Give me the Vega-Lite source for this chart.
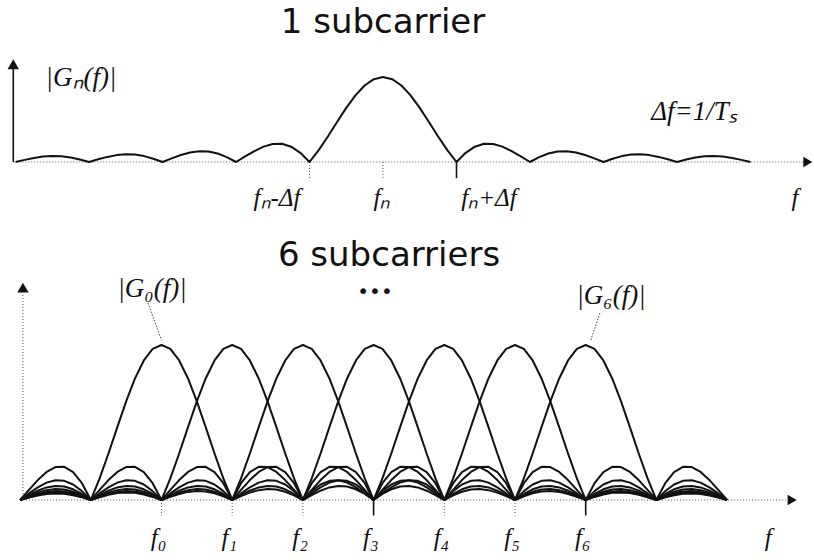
{
  "$schema": "https://vega.github.io/schema/vega-lite/v6.json",
  "padding": 0,
  "autosize": {"type": "pad"},
  "background": "white",
  "spacing": 0,
  "config": {"view": {"stroke": null}},
  "datasets": {
    "single": [
      {"u":-5,"v":0},{"u":-4.875,"v":0.025},{"u":-4.75,"v":0.0474},{"u":-4.625,"v":0.0636},{"u":-4.5,"v":0.0707},{"u":-4.375,"v":0.0672},{"u":-4.25,"v":0.053},{"u":-4.125,"v":0.0295},
      {"u":-4,"v":0},{"u":-3.875,"v":0.0314},{"u":-3.75,"v":0.06},{"u":-3.625,"v":0.0811},{"u":-3.5,"v":0.0909},{"u":-3.375,"v":0.0871},{"u":-3.25,"v":0.0693},{"u":-3.125,"v":0.039},
      {"u":-3,"v":0},{"u":-2.875,"v":0.0424},{"u":-2.75,"v":0.0818},{"u":-2.625,"v":0.112},{"u":-2.5,"v":0.1273},{"u":-2.375,"v":0.1238},{"u":-2.25,"v":0.1},{"u":-2.125,"v":0.0573},
      {"u":-2,"v":0},{"u":-1.875,"v":0.065},{"u":-1.75,"v":0.1286},{"u":-1.625,"v":0.181},{"u":-1.5,"v":0.2122},{"u":-1.375,"v":0.2139},{"u":-1.25,"v":0.1801},{"u":-1.125,"v":0.1083},
      {"u":-1,"v":0},{"u":-0.875,"v":0.1392},{"u":-0.75,"v":0.3001},{"u":-0.625,"v":0.4705},{"u":-0.5,"v":0.6366},{"u":-0.375,"v":0.7842},{"u":-0.25,"v":0.9003},{"u":-0.125,"v":0.9745},
      {"u":0,"v":1},{"u":0.125,"v":0.9745},{"u":0.25,"v":0.9003},{"u":0.375,"v":0.7842},{"u":0.5,"v":0.6366},{"u":0.625,"v":0.4705},{"u":0.75,"v":0.3001},{"u":0.875,"v":0.1392},
      {"u":1,"v":0},{"u":1.125,"v":0.1083},{"u":1.25,"v":0.1801},{"u":1.375,"v":0.2139},{"u":1.5,"v":0.2122},{"u":1.625,"v":0.181},{"u":1.75,"v":0.1286},{"u":1.875,"v":0.065},
      {"u":2,"v":0},{"u":2.125,"v":0.0573},{"u":2.25,"v":0.1},{"u":2.375,"v":0.1238},{"u":2.5,"v":0.1273},{"u":2.625,"v":0.112},{"u":2.75,"v":0.0818},{"u":2.875,"v":0.0424},
      {"u":3,"v":0},{"u":3.125,"v":0.039},{"u":3.25,"v":0.0693},{"u":3.375,"v":0.0871},{"u":3.5,"v":0.0909},{"u":3.625,"v":0.0811},{"u":3.75,"v":0.06},{"u":3.875,"v":0.0314},
      {"u":4,"v":0},{"u":4.125,"v":0.0295},{"u":4.25,"v":0.053},{"u":4.375,"v":0.0672},{"u":4.5,"v":0.0707},{"u":4.625,"v":0.0636},{"u":4.75,"v":0.0474},{"u":4.875,"v":0.025},
      {"u":5,"v":0}
    ],
    "spectra": [
      {"k":0,"u":-2,"v":0},{"k":0,"u":-1.875,"v":0.065},{"k":0,"u":-1.75,"v":0.1286},{"k":0,"u":-1.625,"v":0.181},{"k":0,"u":-1.5,"v":0.2122},{"k":0,"u":-1.375,"v":0.2139},{"k":0,"u":-1.25,"v":0.1801},{"k":0,"u":-1.125,"v":0.1083},
      {"k":0,"u":-1,"v":0},{"k":0,"u":-0.875,"v":0.1392},{"k":0,"u":-0.75,"v":0.3001},{"k":0,"u":-0.625,"v":0.4705},{"k":0,"u":-0.5,"v":0.6366},{"k":0,"u":-0.375,"v":0.7842},{"k":0,"u":-0.25,"v":0.9003},{"k":0,"u":-0.125,"v":0.9745},
      {"k":0,"u":0,"v":1},{"k":0,"u":0.125,"v":0.9745},{"k":0,"u":0.25,"v":0.9003},{"k":0,"u":0.375,"v":0.7842},{"k":0,"u":0.5,"v":0.6366},{"k":0,"u":0.625,"v":0.4705},{"k":0,"u":0.75,"v":0.3001},{"k":0,"u":0.875,"v":0.1392},
      {"k":0,"u":1,"v":0},{"k":0,"u":1.125,"v":0.1083},{"k":0,"u":1.25,"v":0.1801},{"k":0,"u":1.375,"v":0.2139},{"k":0,"u":1.5,"v":0.2122},{"k":0,"u":1.625,"v":0.181},{"k":0,"u":1.75,"v":0.1286},{"k":0,"u":1.875,"v":0.065},
      {"k":0,"u":2,"v":0},{"k":0,"u":2.125,"v":0.0573},{"k":0,"u":2.25,"v":0.1},{"k":0,"u":2.375,"v":0.1238},{"k":0,"u":2.5,"v":0.1273},{"k":0,"u":2.625,"v":0.112},{"k":0,"u":2.75,"v":0.0818},{"k":0,"u":2.875,"v":0.0424},
      {"k":0,"u":3,"v":0},{"k":0,"u":3.125,"v":0.039},{"k":0,"u":3.25,"v":0.0693},{"k":0,"u":3.375,"v":0.0871},{"k":0,"u":3.5,"v":0.0909},{"k":0,"u":3.625,"v":0.0811},{"k":0,"u":3.75,"v":0.06},{"k":0,"u":3.875,"v":0.0314},
      {"k":0,"u":4,"v":0},{"k":0,"u":4.125,"v":0.0295},{"k":0,"u":4.25,"v":0.053},{"k":0,"u":4.375,"v":0.0672},{"k":0,"u":4.5,"v":0.0707},{"k":0,"u":4.625,"v":0.0636},{"k":0,"u":4.75,"v":0.0474},{"k":0,"u":4.875,"v":0.025},
      {"k":0,"u":5,"v":0},{"k":0,"u":5.125,"v":0.0238},{"k":0,"u":5.25,"v":0.0429},{"k":0,"u":5.375,"v":0.0547},{"k":0,"u":5.5,"v":0.0579},{"k":0,"u":5.625,"v":0.0523},{"k":0,"u":5.75,"v":0.0391},{"k":0,"u":5.875,"v":0.0207},
      {"k":0,"u":6,"v":0},{"k":0,"u":6.125,"v":0.0199},{"k":0,"u":6.25,"v":0.036},{"k":0,"u":6.375,"v":0.0461},{"k":0,"u":6.5,"v":0.049},{"k":0,"u":6.625,"v":0.0444},{"k":0,"u":6.75,"v":0.0333},{"k":0,"u":6.875,"v":0.0177},
      {"k":0,"u":7,"v":0},{"k":0,"u":7.125,"v":0.0171},{"k":0,"u":7.25,"v":0.031},{"k":0,"u":7.375,"v":0.0399},{"k":0,"u":7.5,"v":0.0424},{"k":0,"u":7.625,"v":0.0386},{"k":0,"u":7.75,"v":0.029},{"k":0,"u":7.875,"v":0.0155},
      {"k":0,"u":8,"v":0},

      {"k":1,"u":-2,"v":0},{"k":1,"u":-1.875,"v":0.0424},{"k":1,"u":-1.75,"v":0.0818},{"k":1,"u":-1.625,"v":0.112},{"k":1,"u":-1.5,"v":0.1273},{"k":1,"u":-1.375,"v":0.1238},{"k":1,"u":-1.25,"v":0.1},{"k":1,"u":-1.125,"v":0.0573},
      {"k":1,"u":-1,"v":0},{"k":1,"u":-0.875,"v":0.065},{"k":1,"u":-0.75,"v":0.1286},{"k":1,"u":-0.625,"v":0.181},{"k":1,"u":-0.5,"v":0.2122},{"k":1,"u":-0.375,"v":0.2139},{"k":1,"u":-0.25,"v":0.1801},{"k":1,"u":-0.125,"v":0.1083},
      {"k":1,"u":0,"v":0},{"k":1,"u":0.125,"v":0.1392},{"k":1,"u":0.25,"v":0.3001},{"k":1,"u":0.375,"v":0.4705},{"k":1,"u":0.5,"v":0.6366},{"k":1,"u":0.625,"v":0.7842},{"k":1,"u":0.75,"v":0.9003},{"k":1,"u":0.875,"v":0.9745},
      {"k":1,"u":1,"v":1},{"k":1,"u":1.125,"v":0.9745},{"k":1,"u":1.25,"v":0.9003},{"k":1,"u":1.375,"v":0.7842},{"k":1,"u":1.5,"v":0.6366},{"k":1,"u":1.625,"v":0.4705},{"k":1,"u":1.75,"v":0.3001},{"k":1,"u":1.875,"v":0.1392},
      {"k":1,"u":2,"v":0},{"k":1,"u":2.125,"v":0.1083},{"k":1,"u":2.25,"v":0.1801},{"k":1,"u":2.375,"v":0.2139},{"k":1,"u":2.5,"v":0.2122},{"k":1,"u":2.625,"v":0.181},{"k":1,"u":2.75,"v":0.1286},{"k":1,"u":2.875,"v":0.065},
      {"k":1,"u":3,"v":0},{"k":1,"u":3.125,"v":0.0573},{"k":1,"u":3.25,"v":0.1},{"k":1,"u":3.375,"v":0.1238},{"k":1,"u":3.5,"v":0.1273},{"k":1,"u":3.625,"v":0.112},{"k":1,"u":3.75,"v":0.0818},{"k":1,"u":3.875,"v":0.0424},
      {"k":1,"u":4,"v":0},{"k":1,"u":4.125,"v":0.039},{"k":1,"u":4.25,"v":0.0693},{"k":1,"u":4.375,"v":0.0871},{"k":1,"u":4.5,"v":0.0909},{"k":1,"u":4.625,"v":0.0811},{"k":1,"u":4.75,"v":0.06},{"k":1,"u":4.875,"v":0.0314},
      {"k":1,"u":5,"v":0},{"k":1,"u":5.125,"v":0.0295},{"k":1,"u":5.25,"v":0.053},{"k":1,"u":5.375,"v":0.0672},{"k":1,"u":5.5,"v":0.0707},{"k":1,"u":5.625,"v":0.0636},{"k":1,"u":5.75,"v":0.0474},{"k":1,"u":5.875,"v":0.025},
      {"k":1,"u":6,"v":0},{"k":1,"u":6.125,"v":0.0238},{"k":1,"u":6.25,"v":0.0429},{"k":1,"u":6.375,"v":0.0547},{"k":1,"u":6.5,"v":0.0579},{"k":1,"u":6.625,"v":0.0523},{"k":1,"u":6.75,"v":0.0391},{"k":1,"u":6.875,"v":0.0207},
      {"k":1,"u":7,"v":0},{"k":1,"u":7.125,"v":0.0199},{"k":1,"u":7.25,"v":0.036},{"k":1,"u":7.375,"v":0.0461},{"k":1,"u":7.5,"v":0.049},{"k":1,"u":7.625,"v":0.0444},{"k":1,"u":7.75,"v":0.0333},{"k":1,"u":7.875,"v":0.0177},
      {"k":1,"u":8,"v":0},

      {"k":2,"u":-2,"v":0},{"k":2,"u":-1.875,"v":0.0314},{"k":2,"u":-1.75,"v":0.06},{"k":2,"u":-1.625,"v":0.0811},{"k":2,"u":-1.5,"v":0.0909},{"k":2,"u":-1.375,"v":0.0871},{"k":2,"u":-1.25,"v":0.0693},{"k":2,"u":-1.125,"v":0.039},
      {"k":2,"u":-1,"v":0},{"k":2,"u":-0.875,"v":0.0424},{"k":2,"u":-0.75,"v":0.0818},{"k":2,"u":-0.625,"v":0.112},{"k":2,"u":-0.5,"v":0.1273},{"k":2,"u":-0.375,"v":0.1238},{"k":2,"u":-0.25,"v":0.1},{"k":2,"u":-0.125,"v":0.0573},
      {"k":2,"u":0,"v":0},{"k":2,"u":0.125,"v":0.065},{"k":2,"u":0.25,"v":0.1286},{"k":2,"u":0.375,"v":0.181},{"k":2,"u":0.5,"v":0.2122},{"k":2,"u":0.625,"v":0.2139},{"k":2,"u":0.75,"v":0.1801},{"k":2,"u":0.875,"v":0.1083},
      {"k":2,"u":1,"v":0},{"k":2,"u":1.125,"v":0.1392},{"k":2,"u":1.25,"v":0.3001},{"k":2,"u":1.375,"v":0.4705},{"k":2,"u":1.5,"v":0.6366},{"k":2,"u":1.625,"v":0.7842},{"k":2,"u":1.75,"v":0.9003},{"k":2,"u":1.875,"v":0.9745},
      {"k":2,"u":2,"v":1},{"k":2,"u":2.125,"v":0.9745},{"k":2,"u":2.25,"v":0.9003},{"k":2,"u":2.375,"v":0.7842},{"k":2,"u":2.5,"v":0.6366},{"k":2,"u":2.625,"v":0.4705},{"k":2,"u":2.75,"v":0.3001},{"k":2,"u":2.875,"v":0.1392},
      {"k":2,"u":3,"v":0},{"k":2,"u":3.125,"v":0.1083},{"k":2,"u":3.25,"v":0.1801},{"k":2,"u":3.375,"v":0.2139},{"k":2,"u":3.5,"v":0.2122},{"k":2,"u":3.625,"v":0.181},{"k":2,"u":3.75,"v":0.1286},{"k":2,"u":3.875,"v":0.065},
      {"k":2,"u":4,"v":0},{"k":2,"u":4.125,"v":0.0573},{"k":2,"u":4.25,"v":0.1},{"k":2,"u":4.375,"v":0.1238},{"k":2,"u":4.5,"v":0.1273},{"k":2,"u":4.625,"v":0.112},{"k":2,"u":4.75,"v":0.0818},{"k":2,"u":4.875,"v":0.0424},
      {"k":2,"u":5,"v":0},{"k":2,"u":5.125,"v":0.039},{"k":2,"u":5.25,"v":0.0693},{"k":2,"u":5.375,"v":0.0871},{"k":2,"u":5.5,"v":0.0909},{"k":2,"u":5.625,"v":0.0811},{"k":2,"u":5.75,"v":0.06},{"k":2,"u":5.875,"v":0.0314},
      {"k":2,"u":6,"v":0},{"k":2,"u":6.125,"v":0.0295},{"k":2,"u":6.25,"v":0.053},{"k":2,"u":6.375,"v":0.0672},{"k":2,"u":6.5,"v":0.0707},{"k":2,"u":6.625,"v":0.0636},{"k":2,"u":6.75,"v":0.0474},{"k":2,"u":6.875,"v":0.025},
      {"k":2,"u":7,"v":0},{"k":2,"u":7.125,"v":0.0238},{"k":2,"u":7.25,"v":0.0429},{"k":2,"u":7.375,"v":0.0547},{"k":2,"u":7.5,"v":0.0579},{"k":2,"u":7.625,"v":0.0523},{"k":2,"u":7.75,"v":0.0391},{"k":2,"u":7.875,"v":0.0207},
      {"k":2,"u":8,"v":0},

      {"k":3,"u":-2,"v":0},{"k":3,"u":-1.875,"v":0.025},{"k":3,"u":-1.75,"v":0.0474},{"k":3,"u":-1.625,"v":0.0636},{"k":3,"u":-1.5,"v":0.0707},{"k":3,"u":-1.375,"v":0.0672},{"k":3,"u":-1.25,"v":0.053},{"k":3,"u":-1.125,"v":0.0295},
      {"k":3,"u":-1,"v":0},{"k":3,"u":-0.875,"v":0.0314},{"k":3,"u":-0.75,"v":0.06},{"k":3,"u":-0.625,"v":0.0811},{"k":3,"u":-0.5,"v":0.0909},{"k":3,"u":-0.375,"v":0.0871},{"k":3,"u":-0.25,"v":0.0693},{"k":3,"u":-0.125,"v":0.039},
      {"k":3,"u":0,"v":0},{"k":3,"u":0.125,"v":0.0424},{"k":3,"u":0.25,"v":0.0818},{"k":3,"u":0.375,"v":0.112},{"k":3,"u":0.5,"v":0.1273},{"k":3,"u":0.625,"v":0.1238},{"k":3,"u":0.75,"v":0.1},{"k":3,"u":0.875,"v":0.0573},
      {"k":3,"u":1,"v":0},{"k":3,"u":1.125,"v":0.065},{"k":3,"u":1.25,"v":0.1286},{"k":3,"u":1.375,"v":0.181},{"k":3,"u":1.5,"v":0.2122},{"k":3,"u":1.625,"v":0.2139},{"k":3,"u":1.75,"v":0.1801},{"k":3,"u":1.875,"v":0.1083},
      {"k":3,"u":2,"v":0},{"k":3,"u":2.125,"v":0.1392},{"k":3,"u":2.25,"v":0.3001},{"k":3,"u":2.375,"v":0.4705},{"k":3,"u":2.5,"v":0.6366},{"k":3,"u":2.625,"v":0.7842},{"k":3,"u":2.75,"v":0.9003},{"k":3,"u":2.875,"v":0.9745},
      {"k":3,"u":3,"v":1},{"k":3,"u":3.125,"v":0.9745},{"k":3,"u":3.25,"v":0.9003},{"k":3,"u":3.375,"v":0.7842},{"k":3,"u":3.5,"v":0.6366},{"k":3,"u":3.625,"v":0.4705},{"k":3,"u":3.75,"v":0.3001},{"k":3,"u":3.875,"v":0.1392},
      {"k":3,"u":4,"v":0},{"k":3,"u":4.125,"v":0.1083},{"k":3,"u":4.25,"v":0.1801},{"k":3,"u":4.375,"v":0.2139},{"k":3,"u":4.5,"v":0.2122},{"k":3,"u":4.625,"v":0.181},{"k":3,"u":4.75,"v":0.1286},{"k":3,"u":4.875,"v":0.065},
      {"k":3,"u":5,"v":0},{"k":3,"u":5.125,"v":0.0573},{"k":3,"u":5.25,"v":0.1},{"k":3,"u":5.375,"v":0.1238},{"k":3,"u":5.5,"v":0.1273},{"k":3,"u":5.625,"v":0.112},{"k":3,"u":5.75,"v":0.0818},{"k":3,"u":5.875,"v":0.0424},
      {"k":3,"u":6,"v":0},{"k":3,"u":6.125,"v":0.039},{"k":3,"u":6.25,"v":0.0693},{"k":3,"u":6.375,"v":0.0871},{"k":3,"u":6.5,"v":0.0909},{"k":3,"u":6.625,"v":0.0811},{"k":3,"u":6.75,"v":0.06},{"k":3,"u":6.875,"v":0.0314},
      {"k":3,"u":7,"v":0},{"k":3,"u":7.125,"v":0.0295},{"k":3,"u":7.25,"v":0.053},{"k":3,"u":7.375,"v":0.0672},{"k":3,"u":7.5,"v":0.0707},{"k":3,"u":7.625,"v":0.0636},{"k":3,"u":7.75,"v":0.0474},{"k":3,"u":7.875,"v":0.025},
      {"k":3,"u":8,"v":0},

      {"k":4,"u":-2,"v":0},{"k":4,"u":-1.875,"v":0.0207},{"k":4,"u":-1.75,"v":0.0391},{"k":4,"u":-1.625,"v":0.0523},{"k":4,"u":-1.5,"v":0.0579},{"k":4,"u":-1.375,"v":0.0547},{"k":4,"u":-1.25,"v":0.0429},{"k":4,"u":-1.125,"v":0.0238},
      {"k":4,"u":-1,"v":0},{"k":4,"u":-0.875,"v":0.025},{"k":4,"u":-0.75,"v":0.0474},{"k":4,"u":-0.625,"v":0.0636},{"k":4,"u":-0.5,"v":0.0707},{"k":4,"u":-0.375,"v":0.0672},{"k":4,"u":-0.25,"v":0.053},{"k":4,"u":-0.125,"v":0.0295},
      {"k":4,"u":0,"v":0},{"k":4,"u":0.125,"v":0.0314},{"k":4,"u":0.25,"v":0.06},{"k":4,"u":0.375,"v":0.0811},{"k":4,"u":0.5,"v":0.0909},{"k":4,"u":0.625,"v":0.0871},{"k":4,"u":0.75,"v":0.0693},{"k":4,"u":0.875,"v":0.039},
      {"k":4,"u":1,"v":0},{"k":4,"u":1.125,"v":0.0424},{"k":4,"u":1.25,"v":0.0818},{"k":4,"u":1.375,"v":0.112},{"k":4,"u":1.5,"v":0.1273},{"k":4,"u":1.625,"v":0.1238},{"k":4,"u":1.75,"v":0.1},{"k":4,"u":1.875,"v":0.0573},
      {"k":4,"u":2,"v":0},{"k":4,"u":2.125,"v":0.065},{"k":4,"u":2.25,"v":0.1286},{"k":4,"u":2.375,"v":0.181},{"k":4,"u":2.5,"v":0.2122},{"k":4,"u":2.625,"v":0.2139},{"k":4,"u":2.75,"v":0.1801},{"k":4,"u":2.875,"v":0.1083},
      {"k":4,"u":3,"v":0},{"k":4,"u":3.125,"v":0.1392},{"k":4,"u":3.25,"v":0.3001},{"k":4,"u":3.375,"v":0.4705},{"k":4,"u":3.5,"v":0.6366},{"k":4,"u":3.625,"v":0.7842},{"k":4,"u":3.75,"v":0.9003},{"k":4,"u":3.875,"v":0.9745},
      {"k":4,"u":4,"v":1},{"k":4,"u":4.125,"v":0.9745},{"k":4,"u":4.25,"v":0.9003},{"k":4,"u":4.375,"v":0.7842},{"k":4,"u":4.5,"v":0.6366},{"k":4,"u":4.625,"v":0.4705},{"k":4,"u":4.75,"v":0.3001},{"k":4,"u":4.875,"v":0.1392},
      {"k":4,"u":5,"v":0},{"k":4,"u":5.125,"v":0.1083},{"k":4,"u":5.25,"v":0.1801},{"k":4,"u":5.375,"v":0.2139},{"k":4,"u":5.5,"v":0.2122},{"k":4,"u":5.625,"v":0.181},{"k":4,"u":5.75,"v":0.1286},{"k":4,"u":5.875,"v":0.065},
      {"k":4,"u":6,"v":0},{"k":4,"u":6.125,"v":0.0573},{"k":4,"u":6.25,"v":0.1},{"k":4,"u":6.375,"v":0.1238},{"k":4,"u":6.5,"v":0.1273},{"k":4,"u":6.625,"v":0.112},{"k":4,"u":6.75,"v":0.0818},{"k":4,"u":6.875,"v":0.0424},
      {"k":4,"u":7,"v":0},{"k":4,"u":7.125,"v":0.039},{"k":4,"u":7.25,"v":0.0693},{"k":4,"u":7.375,"v":0.0871},{"k":4,"u":7.5,"v":0.0909},{"k":4,"u":7.625,"v":0.0811},{"k":4,"u":7.75,"v":0.06},{"k":4,"u":7.875,"v":0.0314},
      {"k":4,"u":8,"v":0},

      {"k":5,"u":-2,"v":0},{"k":5,"u":-1.875,"v":0.0177},{"k":5,"u":-1.75,"v":0.0333},{"k":5,"u":-1.625,"v":0.0444},{"k":5,"u":-1.5,"v":0.049},{"k":5,"u":-1.375,"v":0.0461},{"k":5,"u":-1.25,"v":0.036},{"k":5,"u":-1.125,"v":0.0199},
      {"k":5,"u":-1,"v":0},{"k":5,"u":-0.875,"v":0.0207},{"k":5,"u":-0.75,"v":0.0391},{"k":5,"u":-0.625,"v":0.0523},{"k":5,"u":-0.5,"v":0.0579},{"k":5,"u":-0.375,"v":0.0547},{"k":5,"u":-0.25,"v":0.0429},{"k":5,"u":-0.125,"v":0.0238},
      {"k":5,"u":0,"v":0},{"k":5,"u":0.125,"v":0.025},{"k":5,"u":0.25,"v":0.0474},{"k":5,"u":0.375,"v":0.0636},{"k":5,"u":0.5,"v":0.0707},{"k":5,"u":0.625,"v":0.0672},{"k":5,"u":0.75,"v":0.053},{"k":5,"u":0.875,"v":0.0295},
      {"k":5,"u":1,"v":0},{"k":5,"u":1.125,"v":0.0314},{"k":5,"u":1.25,"v":0.06},{"k":5,"u":1.375,"v":0.0811},{"k":5,"u":1.5,"v":0.0909},{"k":5,"u":1.625,"v":0.0871},{"k":5,"u":1.75,"v":0.0693},{"k":5,"u":1.875,"v":0.039},
      {"k":5,"u":2,"v":0},{"k":5,"u":2.125,"v":0.0424},{"k":5,"u":2.25,"v":0.0818},{"k":5,"u":2.375,"v":0.112},{"k":5,"u":2.5,"v":0.1273},{"k":5,"u":2.625,"v":0.1238},{"k":5,"u":2.75,"v":0.1},{"k":5,"u":2.875,"v":0.0573},
      {"k":5,"u":3,"v":0},{"k":5,"u":3.125,"v":0.065},{"k":5,"u":3.25,"v":0.1286},{"k":5,"u":3.375,"v":0.181},{"k":5,"u":3.5,"v":0.2122},{"k":5,"u":3.625,"v":0.2139},{"k":5,"u":3.75,"v":0.1801},{"k":5,"u":3.875,"v":0.1083},
      {"k":5,"u":4,"v":0},{"k":5,"u":4.125,"v":0.1392},{"k":5,"u":4.25,"v":0.3001},{"k":5,"u":4.375,"v":0.4705},{"k":5,"u":4.5,"v":0.6366},{"k":5,"u":4.625,"v":0.7842},{"k":5,"u":4.75,"v":0.9003},{"k":5,"u":4.875,"v":0.9745},
      {"k":5,"u":5,"v":1},{"k":5,"u":5.125,"v":0.9745},{"k":5,"u":5.25,"v":0.9003},{"k":5,"u":5.375,"v":0.7842},{"k":5,"u":5.5,"v":0.6366},{"k":5,"u":5.625,"v":0.4705},{"k":5,"u":5.75,"v":0.3001},{"k":5,"u":5.875,"v":0.1392},
      {"k":5,"u":6,"v":0},{"k":5,"u":6.125,"v":0.1083},{"k":5,"u":6.25,"v":0.1801},{"k":5,"u":6.375,"v":0.2139},{"k":5,"u":6.5,"v":0.2122},{"k":5,"u":6.625,"v":0.181},{"k":5,"u":6.75,"v":0.1286},{"k":5,"u":6.875,"v":0.065},
      {"k":5,"u":7,"v":0},{"k":5,"u":7.125,"v":0.0573},{"k":5,"u":7.25,"v":0.1},{"k":5,"u":7.375,"v":0.1238},{"k":5,"u":7.5,"v":0.1273},{"k":5,"u":7.625,"v":0.112},{"k":5,"u":7.75,"v":0.0818},{"k":5,"u":7.875,"v":0.0424},
      {"k":5,"u":8,"v":0},

      {"k":6,"u":-2,"v":0},{"k":6,"u":-1.875,"v":0.0155},{"k":6,"u":-1.75,"v":0.029},{"k":6,"u":-1.625,"v":0.0386},{"k":6,"u":-1.5,"v":0.0424},{"k":6,"u":-1.375,"v":0.0399},{"k":6,"u":-1.25,"v":0.031},{"k":6,"u":-1.125,"v":0.0171},
      {"k":6,"u":-1,"v":0},{"k":6,"u":-0.875,"v":0.0177},{"k":6,"u":-0.75,"v":0.0333},{"k":6,"u":-0.625,"v":0.0444},{"k":6,"u":-0.5,"v":0.049},{"k":6,"u":-0.375,"v":0.0461},{"k":6,"u":-0.25,"v":0.036},{"k":6,"u":-0.125,"v":0.0199},
      {"k":6,"u":0,"v":0},{"k":6,"u":0.125,"v":0.0207},{"k":6,"u":0.25,"v":0.0391},{"k":6,"u":0.375,"v":0.0523},{"k":6,"u":0.5,"v":0.0579},{"k":6,"u":0.625,"v":0.0547},{"k":6,"u":0.75,"v":0.0429},{"k":6,"u":0.875,"v":0.0238},
      {"k":6,"u":1,"v":0},{"k":6,"u":1.125,"v":0.025},{"k":6,"u":1.25,"v":0.0474},{"k":6,"u":1.375,"v":0.0636},{"k":6,"u":1.5,"v":0.0707},{"k":6,"u":1.625,"v":0.0672},{"k":6,"u":1.75,"v":0.053},{"k":6,"u":1.875,"v":0.0295},
      {"k":6,"u":2,"v":0},{"k":6,"u":2.125,"v":0.0314},{"k":6,"u":2.25,"v":0.06},{"k":6,"u":2.375,"v":0.0811},{"k":6,"u":2.5,"v":0.0909},{"k":6,"u":2.625,"v":0.0871},{"k":6,"u":2.75,"v":0.0693},{"k":6,"u":2.875,"v":0.039},
      {"k":6,"u":3,"v":0},{"k":6,"u":3.125,"v":0.0424},{"k":6,"u":3.25,"v":0.0818},{"k":6,"u":3.375,"v":0.112},{"k":6,"u":3.5,"v":0.1273},{"k":6,"u":3.625,"v":0.1238},{"k":6,"u":3.75,"v":0.1},{"k":6,"u":3.875,"v":0.0573},
      {"k":6,"u":4,"v":0},{"k":6,"u":4.125,"v":0.065},{"k":6,"u":4.25,"v":0.1286},{"k":6,"u":4.375,"v":0.181},{"k":6,"u":4.5,"v":0.2122},{"k":6,"u":4.625,"v":0.2139},{"k":6,"u":4.75,"v":0.1801},{"k":6,"u":4.875,"v":0.1083},
      {"k":6,"u":5,"v":0},{"k":6,"u":5.125,"v":0.1392},{"k":6,"u":5.25,"v":0.3001},{"k":6,"u":5.375,"v":0.4705},{"k":6,"u":5.5,"v":0.6366},{"k":6,"u":5.625,"v":0.7842},{"k":6,"u":5.75,"v":0.9003},{"k":6,"u":5.875,"v":0.9745},
      {"k":6,"u":6,"v":1},{"k":6,"u":6.125,"v":0.9745},{"k":6,"u":6.25,"v":0.9003},{"k":6,"u":6.375,"v":0.7842},{"k":6,"u":6.5,"v":0.6366},{"k":6,"u":6.625,"v":0.4705},{"k":6,"u":6.75,"v":0.3001},{"k":6,"u":6.875,"v":0.1392},
      {"k":6,"u":7,"v":0},{"k":6,"u":7.125,"v":0.1083},{"k":6,"u":7.25,"v":0.1801},{"k":6,"u":7.375,"v":0.2139},{"k":6,"u":7.5,"v":0.2122},{"k":6,"u":7.625,"v":0.181},{"k":6,"u":7.75,"v":0.1286},{"k":6,"u":7.875,"v":0.065},
      {"k":6,"u":8,"v":0}
    ]
  },
  "vconcat": [
    {
      "width": 814,
      "height": 220,
      "encoding": {
        "x": {"field": "u", "type": "quantitative", "axis": null,
              "scale": {"domain": [-5.21088, 5.86395], "nice": false, "zero": false}},
        "y": {"field": "v", "type": "quantitative", "axis": null,
              "scale": {"domain": [-0.68235, 1.90588], "nice": false, "zero": false}}
      },
      "layer": [
        {
          "data": {"values": [{"u": -5.03, "u2": 5.72, "v": 0}]},
          "mark": {"type": "rule", "color": "#555", "strokeWidth": 1, "strokeDash": [1, 2]},
          "encoding": {"x2": {"field": "u2"}}
        },
        {
          "data": {"values": [{"u": -5.03, "v": 0, "v2": 1.1}]},
          "mark": {"type": "rule", "color": "#111", "strokeWidth": 1.6},
          "encoding": {"y2": {"field": "v2"}}
        },
        {
          "data": {"values": [{"u": -1, "v": 0, "v2": -0.19}, {"u": 0, "v": 0, "v2": -0.19}]},
          "mark": {"type": "rule", "color": "#555", "strokeWidth": 1, "strokeDash": [1, 2]},
          "encoding": {"y2": {"field": "v2"}}
        },
        {
          "data": {"values": [{"u": 1, "v": 0, "v2": -0.19}]},
          "mark": {"type": "rule", "color": "#111", "strokeWidth": 1.6},
          "encoding": {"y2": {"field": "v2"}}
        },
        {
          "data": {"values": [{"u": -5.03, "v": 1.15}]},
          "mark": {"type": "point", "shape": "triangle-up", "filled": true, "color": "#111", "opacity": 1, "size": 130}
        },
        {
          "data": {"values": [{"u": 5.78, "v": 0}]},
          "mark": {"type": "point", "shape": "triangle-right", "filled": true, "color": "#111", "opacity": 1, "size": 110}
        },
        {
          "data": {"name": "single"},
          "mark": {"type": "line", "color": "#111", "strokeWidth": 2, "strokeJoin": "round"}
        },
        {
          "data": {"values": [{"u": 0, "v": 1.52, "t": "1 subcarrier"}]},
          "mark": {"type": "text", "font": "DejaVu Sans", "fontSize": 34, "color": "#111", "align": "center", "baseline": "alphabetic"},
          "encoding": {"text": {"field": "t"}}
        },
        {
          "data": {"values": [
            {"u": -4.109, "v": 0.988, "t": "|Gₙ(f)|"},
            {"u": 4.231, "v": 0.588, "t": "Δf=1/Tₛ"}
          ]},
          "mark": {"type": "text", "font": "Liberation Serif", "fontStyle": "italic", "fontSize": 27, "color": "#111", "align": "center", "baseline": "middle"},
          "encoding": {"text": {"field": "t"}}
        },
        {
          "data": {"values": [
            {"u": -1.442, "v": -0.424, "t": "fₙ-Δf"},
            {"u": -0.014, "v": -0.424, "t": "fₙ"},
            {"u": 1.442, "v": -0.424, "t": "fₙ+Δf"},
            {"u": 5.605, "v": -0.424, "t": "f"}
          ]},
          "mark": {"type": "text", "font": "Liberation Serif", "fontStyle": "italic", "fontSize": 25, "color": "#111", "align": "center", "baseline": "middle"},
          "encoding": {"text": {"field": "t"}}
        }
      ]
    },
    {
      "width": 814,
      "height": 340,
      "encoding": {
        "x": {"field": "u", "type": "quantitative", "axis": null,
              "scale": {"domain": [-2.2843, 9.22914], "nice": false, "zero": false}},
        "y": {"field": "v", "type": "quantitative", "axis": null,
              "scale": {"domain": [-0.3871, 1.8065], "nice": false, "zero": false}}
      },
      "layer": [
        {
          "data": {"values": [{"u": -2, "u2": 8.85, "v": 0}]},
          "mark": {"type": "rule", "color": "#555", "strokeWidth": 1, "strokeDash": [1, 2]},
          "encoding": {"x2": {"field": "u2"}}
        },
        {
          "data": {"values": [{"u": -1.96, "v": 0, "v2": 1.33}]},
          "mark": {"type": "rule", "color": "#555", "strokeWidth": 1, "strokeDash": [1, 2]},
          "encoding": {"y2": {"field": "v2"}}
        },
        {
          "data": {"values": [
            {"u": 0, "v": 0, "v2": -0.1}, {"u": 1, "v": 0, "v2": -0.1}, {"u": 2, "v": 0, "v2": -0.1},
            {"u": 4, "v": 0, "v2": -0.1}, {"u": 5, "v": 0, "v2": -0.1}
          ]},
          "mark": {"type": "rule", "color": "#555", "strokeWidth": 1, "strokeDash": [1, 2]},
          "encoding": {"y2": {"field": "v2"}}
        },
        {
          "data": {"values": [{"u": 3, "v": 0, "v2": -0.1}, {"u": 6, "v": 0, "v2": -0.1}]},
          "mark": {"type": "rule", "color": "#111", "strokeWidth": 1.6},
          "encoding": {"y2": {"field": "v2"}}
        },
        {
          "data": {"values": [
            {"u": -0.191, "v": 1.271, "u2": 0, "v2": 1.03},
            {"u": 6.202, "v": 1.206, "u2": 6.07, "v2": 1.03}
          ]},
          "mark": {"type": "rule", "color": "#444", "strokeWidth": 1, "strokeDash": [1.5, 1.5]},
          "encoding": {"x2": {"field": "u2"}, "y2": {"field": "v2"}}
        },
        {
          "data": {"values": [{"u": -1.96, "v": 1.37}]},
          "mark": {"type": "point", "shape": "triangle-up", "filled": true, "color": "#111", "opacity": 1, "size": 130}
        },
        {
          "data": {"values": [{"u": 8.92, "v": 0}]},
          "mark": {"type": "point", "shape": "triangle-right", "filled": true, "color": "#111", "opacity": 1, "size": 110}
        },
        {
          "data": {"name": "spectra"},
          "mark": {"type": "line", "color": "#111", "strokeWidth": 2, "strokeJoin": "round"},
          "encoding": {"detail": {"field": "k", "type": "nominal"}}
        },
        {
          "data": {"values": [{"u": 3.218, "v": 1.51, "t": "6 subcarriers"}]},
          "mark": {"type": "text", "font": "DejaVu Sans", "fontSize": 34, "color": "#111", "align": "center", "baseline": "alphabetic"},
          "encoding": {"text": {"field": "t"}}
        },
        {
          "data": {"values": [{"u": 3.02, "v": 1.342, "t": "•••"}]},
          "mark": {"type": "text", "font": "DejaVu Sans", "fontSize": 20, "color": "#111", "align": "center", "baseline": "middle"},
          "encoding": {"text": {"field": "t"}}
        },
        {
          "data": {"values": [
            {"u": -0.134, "v": 1.361, "t": "|G₀(f)|"},
            {"u": 6.358, "v": 1.316, "t": "|G₆(f)|"}
          ]},
          "mark": {"type": "text", "font": "Liberation Serif", "fontStyle": "italic", "fontSize": 27, "color": "#111", "align": "center", "baseline": "middle"},
          "encoding": {"text": {"field": "t"}}
        },
        {
          "data": {"values": [
            {"u": -0.04, "v": -0.245, "t": "f₀"},
            {"u": 0.96, "v": -0.245, "t": "f₁"},
            {"u": 1.96, "v": -0.245, "t": "f₂"},
            {"u": 2.96, "v": -0.245, "t": "f₃"},
            {"u": 3.96, "v": -0.245, "t": "f₄"},
            {"u": 4.96, "v": -0.245, "t": "f₅"},
            {"u": 5.96, "v": -0.245, "t": "f₆"},
            {"u": 8.58, "v": -0.245, "t": "f"}
          ]},
          "mark": {"type": "text", "font": "Liberation Serif", "fontStyle": "italic", "fontSize": 25, "color": "#111", "align": "center", "baseline": "middle"},
          "encoding": {"text": {"field": "t"}}
        }
      ]
    }
  ]
}
